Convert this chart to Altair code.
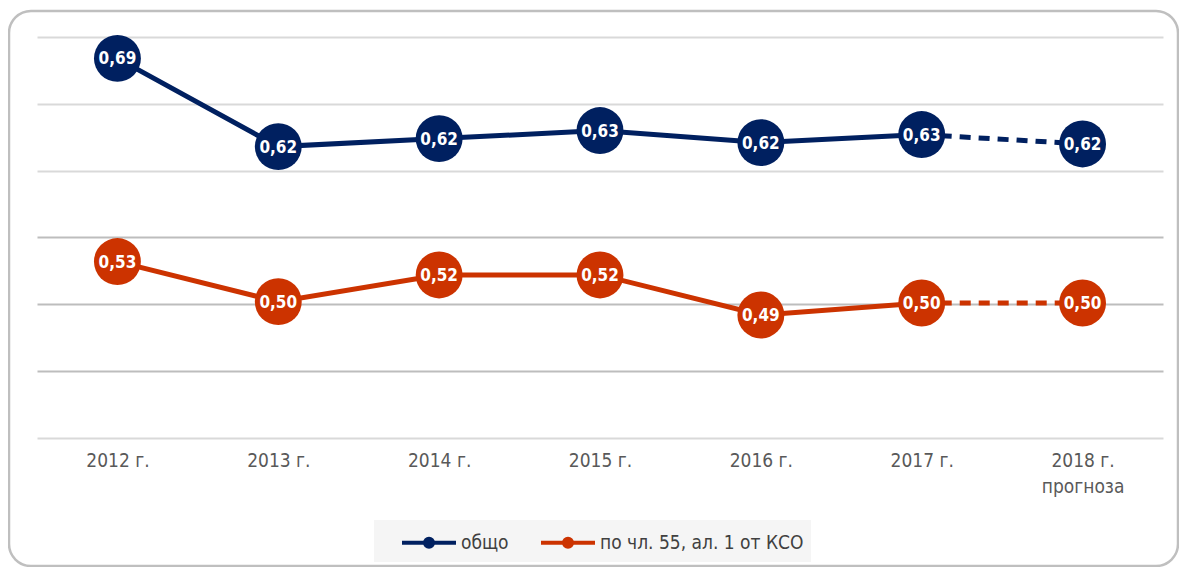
import altair as alt
import pandas as pd

years = ["2012 г.", "2013 г.", "2014 г.", "2015 г.", "2016 г.", "2017 г.", "2018 г.|прогноза"]
series_names = ["общо", "по чл. 55, ал. 1 от КСО"]
total_values = [0.684, 0.618, 0.624, 0.630, 0.621, 0.627, 0.620]
total_labels = ["0,69", "0,62", "0,62", "0,63", "0,62", "0,63", "0,62"]
art55_values = [0.532, 0.502, 0.522, 0.522, 0.492, 0.501, 0.501]
art55_labels = ["0,53", "0,50", "0,52", "0,52", "0,49", "0,50", "0,50"]
grid_values = [0.40, 0.45, 0.50, 0.55, 0.60, 0.65, 0.70]
forecast_start = 5  # index of the last actual year; the segment after it is dashed

NAVY = "#002060"
RED = "#cc3300"
FONT = "DejaVu Sans Condensed, Liberation Sans Narrow, sans-serif"

rows = []
for name, vals, labs in [(series_names[0], total_values, total_labels),
                         (series_names[1], art55_values, art55_labels)]:
    for i, (y, v, l) in enumerate(zip(years, vals, labs)):
        rows.append({"series": name, "year": y, "idx": i, "value": v, "label": l})
df = pd.DataFrame(rows)

legend_path = ("M -1 0 L 3 0 "
               "M 1.3 0 A 0.3 0.3 0 1 1 0.7 0 A 0.3 0.3 0 1 1 1.3 0 "
               "M 1.1 0 A 0.1 0.1 0 1 1 0.9 0 A 0.1 0.1 0 1 1 1.1 0")

legend = alt.Legend(
    orient="none", legendX=337, legendY=483, direction="horizontal",
    title="\u00a0", titleOrient="left", titlePadding=19, titleFontSize=17,
    fillColor="#f5f5f5", padding=7,
    symbolType=legend_path, symbolSize=729, symbolStrokeWidth=4,
    symbolOpacity=1,
    labelFont=FONT, labelFontSize=19, labelColor="#404040", labelLimit=400,
    labelOffset=30, columnPadding=24,
)

x = alt.X("year:N", sort=years, title=None,
          axis=alt.Axis(labelExpr="split(datum.value, '|')", labelAngle=0,
                        labelFont=FONT, labelFontSize=19, labelColor="#595959",
                        labelPadding=13, labelLineHeight=26,
                        domain=False, ticks=False, grid=False))
y = alt.Y("value:Q", title=None,
          scale=alt.Scale(domain=[0.40, 0.70], nice=False, zero=False),
          axis=alt.Axis(values=grid_values, labels=False, ticks=False, domain=False,
                        grid=True, gridWidth=2,
                        gridColor={"condition": {"test": "datum.value > 0.44 && datum.value < 0.56",
                                                 "value": "#bdbdbd"},
                                   "value": "#d9d9d9"}))
color = alt.Color("series:N",
                  scale=alt.Scale(domain=series_names, range=[NAVY, RED]),
                  legend=legend)

base = alt.Chart(df)

solid = base.transform_filter(f"datum.idx <= {forecast_start}").mark_line(
    strokeWidth=5).encode(x=x, y=y, color=color, detail="series:N")
dashed = base.transform_filter(f"datum.idx >= {forecast_start}").mark_line(
    strokeWidth=5, strokeDash=[11, 8]).encode(x=x, y=y, color=color, detail="series:N")
dots = base.mark_circle(size=2200, opacity=1).encode(x=x, y=y, color=color)
texts = base.mark_text(color="white", font=FONT, fontSize=17, fontWeight="bold",
                       align="center", baseline="middle", dy=1).encode(
    x=x, y=y, text="label:N")

frame = alt.Chart(pd.DataFrame({"f": [0]})).mark_rect(
    fill=None, stroke="#bfbfbf", strokeWidth=2.5, cornerRadius=22).encode(
    x=alt.value(-28), x2=alt.value(1141), y=alt.value(-26), y2=alt.value(529))

chart = alt.layer(frame, solid, dashed, dots, texts).properties(
    width=1126, height=401,
    autosize=alt.AutoSizeParams(type="none"),
    padding={"left": 29, "top": 29, "right": 16, "bottom": 129},
).configure(background="white").configure_view(strokeWidth=0, stroke="transparent")

chart.save("out.html", embed_options={"renderer": "svg", "actions": False})
